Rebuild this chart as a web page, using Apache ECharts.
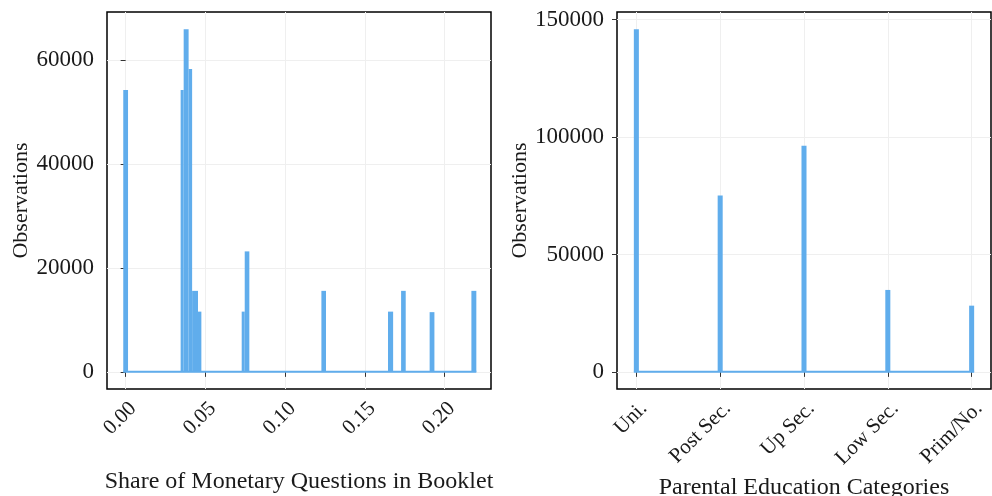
<!DOCTYPE html>
<html>
<head>
<meta charset="utf-8">
<script src="https://cdn.jsdelivr.net/npm/echarts@6/dist/echarts.min.js"></script>
<style>
  html, body { margin: 0; padding: 0; background: #fff; }
  #chart { width: 992px; height: 496px; }
</style>
</head>
<body>
<div id="chart"></div>
<script>
// left panel: histogram bins (bin start, bin end, observations)
var shareBinStart = [-0.0015, 0.0345, 0.0364, 0.0395, 0.0417, 0.0454, 0.0728, 0.0747, 0.1228, 0.1646, 0.1728, 0.1907, 0.2169];
var shareBinEnd   = [0.0015, 0.0364, 0.0395, 0.0417, 0.0454, 0.0475, 0.0747, 0.0776, 0.1257, 0.1678, 0.1757, 0.1937, 0.2200];
var shareCounts   = [54300, 54300, 66000, 58300, 15600, 11600, 11600, 23200, 15600, 11600, 15600, 11500, 15600];
var shareTicks = [0, 0.05, 0.10, 0.15, 0.20];
var shareCountTicks = [0, 20000, 40000, 60000];

// right panel: parental education
var eduCategories = ["Uni.", "Post Sec.", "Up Sec.", "Low Sec.", "Prim/No."];
var eduCounts = [146000, 75100, 96300, 34900, 28200];
var eduCountTicks = [0, 50000, 100000, 150000];

var barColor = "#60adec";
var font = "Liberation Serif";
var eduHalfWidth = 0.03;

function renderBin(params, api) {
	var p0 = api.coord([api.value(0), 0]);
	var p1 = api.coord([api.value(1), api.value(2)]);
	return {
		type: "rect",
		shape: { x: p0[0], y: p1[1], width: p1[0] - p0[0], height: p0[1] - p1[1] },
		style: { fill: barColor },
	};
}

var shareData = shareBinStart.map(function (s, i) {
	return [s, shareBinEnd[i], shareCounts[i]];
});
var eduData = eduCounts.map(function (c, i) {
	return [i + 1 - eduHalfWidth, i + 1 + eduHalfWidth, c];
});

function axisText(size) {
	return { fontFamily: font, fontSize: size, color: "#1a1a1a" };
}
function plain(v) {
	return String(v);
}

var gridBase = { top: 12, bottom: 107, show: true, borderColor: "#000", borderWidth: 1.5, backgroundColor: "#fff", containLabel: false, outerBoundsMode: "none" };

var myCharts = echarts.init(document.getElementById("chart"));
var option = {
	animation: false,
	grid: [
		Object.assign({ left: 107, right: 501 }, gridBase),
		Object.assign({ left: 617, right: 1 }, gridBase),
	],
	xAxis: [
		{
			type: "value",
			gridIndex: 0,
			min: -0.0117,
			max: 0.2292,
			name: "Share of Monetary Questions in Booklet",
			nameLocation: "middle",
			nameGap: 81,
			nameTextStyle: axisText(24),
			axisLine: { show: false },
			axisTick: { show: true, length: 5, lineStyle: { color: "#333" }, customValues: shareTicks },
			axisLabel: Object.assign({ rotate: 45, margin: 9, align: "right", verticalAlign: "top", customValues: shareTicks, formatter: function (v) { return v.toFixed(2); } }, axisText(21)),
			splitLine: { show: true, lineStyle: { color: "#efefef", width: 1 } },
		},
		{
			type: "value",
			gridIndex: 1,
			min: 0.769,
			max: 5.231,
			name: "Parental Education Categories",
			nameLocation: "middle",
			nameGap: 82,
			nameTextStyle: axisText(24),
			axisLine: { show: false },
			axisTick: { show: true, length: 5, lineStyle: { color: "#333" }, customValues: [1, 2, 3, 4, 5] },
			axisLabel: Object.assign({ rotate: 45, margin: 9, align: "right", verticalAlign: "top", customValues: [1, 2, 3, 4, 5], formatter: function (v) { return eduCategories[Math.round(v) - 1] || ""; } }, axisText(21)),
			splitLine: { show: true, lineStyle: { color: "#efefef", width: 1 } },
		},
	],
	yAxis: [
		{
			type: "value",
			gridIndex: 0,
			min: -3300,
			max: 69300,
			name: "Observations",
			nameLocation: "middle",
			nameGap: 74,
			nameTextStyle: axisText(22),
			axisLine: { show: false },
			axisTick: { show: true, length: 5, lineStyle: { color: "#333" }, customValues: shareCountTicks },
			axisLabel: Object.assign({ margin: 13, customValues: shareCountTicks, formatter: plain }, axisText(23)),
			splitLine: { show: true, lineStyle: { color: "#efefef", width: 1 } },
		},
		{
			type: "value",
			gridIndex: 1,
			min: -7300,
			max: 153300,
			name: "Observations",
			nameLocation: "middle",
			nameGap: 86,
			nameTextStyle: axisText(22),
			axisLine: { show: false },
			axisTick: { show: true, length: 5, lineStyle: { color: "#333" }, customValues: eduCountTicks },
			axisLabel: Object.assign({ margin: 13, customValues: eduCountTicks, formatter: plain }, axisText(23)),
			splitLine: { show: true, lineStyle: { color: "#efefef", width: 1 } },
		},
	],
	series: [
		{
			type: "line",
			xAxisIndex: 0,
			yAxisIndex: 0,
			data: [[shareBinStart[0], 0], [shareBinEnd[shareBinEnd.length - 1], 0]],
			symbol: "none",
			lineStyle: { color: barColor, width: 2 },
		},
		{
			type: "custom",
			xAxisIndex: 0,
			yAxisIndex: 0,
			renderItem: renderBin,
			encode: { x: [0, 1], y: 2 },
			data: shareData,
		},
		{
			type: "line",
			xAxisIndex: 1,
			yAxisIndex: 1,
			data: [[eduData[0][0], 0], [eduData[eduData.length - 1][1], 0]],
			symbol: "none",
			lineStyle: { color: barColor, width: 2 },
		},
		{
			type: "custom",
			xAxisIndex: 1,
			yAxisIndex: 1,
			renderItem: renderBin,
			encode: { x: [0, 1], y: 2 },
			data: eduData,
		},
	],
};
myCharts.setOption(option);
</script>
</body>
</html>
